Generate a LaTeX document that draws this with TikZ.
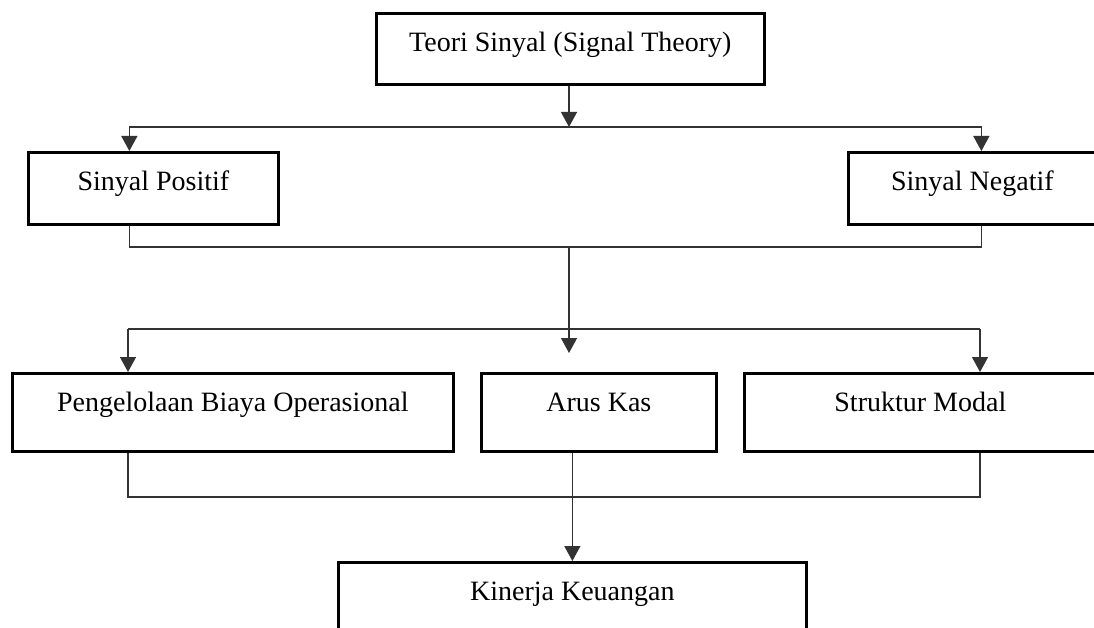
\documentclass[tikz,border=0pt]{standalone}
\usepackage{fontspec}
\setmainfont{Liberation Serif}
\usetikzlibrary{arrows.meta}
\begin{document}
\begin{tikzpicture}[x=1pt,y=-1pt,
  box/.style={draw=black, line width=2.7pt, anchor=north west, inner sep=0pt,
    text height=38pt, align=center,
    font=\fontsize{28}{32}\selectfont},
  conn/.style={draw=black!80, line width=1.3pt},
  arr/.style={conn, -{Triangle[length=15pt,width=16pt]}}]
  \useasboundingbox (0,0) rectangle (1094,628);
  \clip (0,0) rectangle (1094,628);

  % boxes
  \node[box, minimum width=388pt, text depth=33pt] (top) at (375,12) {Teori Sinyal (Signal Theory)};
  \node[box, minimum width=250pt, text depth=34pt] (pos) at (27,151) {Sinyal Positif};
  \node[box, minimum width=248pt, text depth=34pt] (neg) at (847,151) {Sinyal Negatif};
  \node[box, minimum width=441pt, text depth=40pt] (peng) at (11,372) {Pengelolaan Biaya Operasional};
  \node[box, minimum width=235pt, text depth=40pt] (arus) at (480,372) {Arus Kas};
  \node[box, minimum width=352pt, text depth=40pt] (struk) at (743,372) {Struktur Modal};
  \node[box, minimum width=468pt, text depth=45pt] (kin) at (337,561) {Kinerja Keuangan};

  % branch points
  \coordinate (j1) at (569,127);
  \coordinate (j2) at (569,247);
  \coordinate (tip) at (569,353);
  \coordinate (l3) at (128,329);
  \coordinate (r3) at (980,329);
  \coordinate (j4) at (128,497);

  % top to signal boxes
  \draw[arr] (j1 |- top.south) -- (j1);
  \draw[arr] (j1) -| ([xshift=-24pt]pos.north);
  \draw[arr] (j1) -| ([xshift=9pt]neg.north);

  % signal boxes to the middle row
  \draw[conn] ([xshift=-24pt]pos.south) |- (j2) -| ([xshift=9pt]neg.south);
  \draw[arr] (j2) -- (tip);
  \draw[conn] (l3) -- (r3);
  \draw[arr] (l3) -- (l3 |- peng.north);
  \draw[arr] (r3) -- (r3 |- struk.north);

  % middle row to the result
  \draw[conn] (j4 |- peng.south) -- (j4) -| (r3 |- struk.south);
  \draw[arr] (kin.north |- arus.south) -- (kin.north);
\end{tikzpicture}
\end{document}
